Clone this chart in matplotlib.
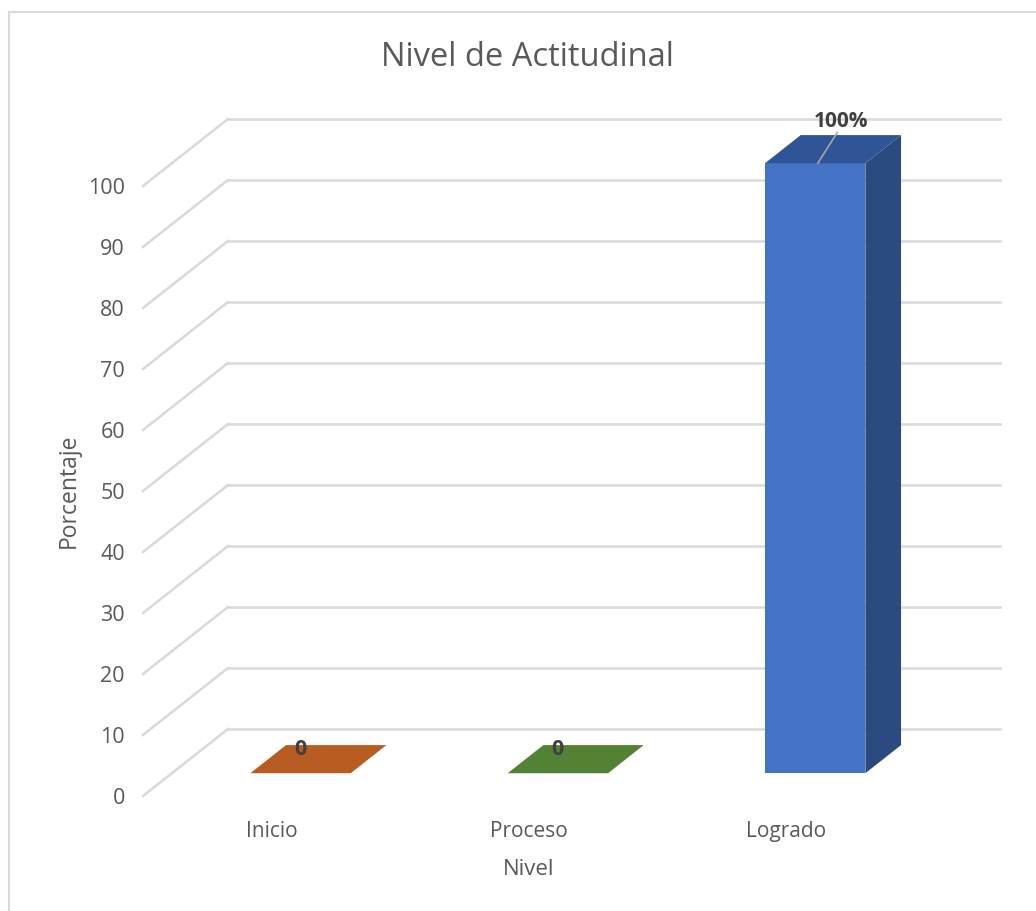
import numpy as np
import matplotlib
matplotlib.use("Agg")
import matplotlib.pyplot as plt
from matplotlib.patches import Polygon
from matplotlib.lines import Line2D

plt.rcParams['font.family'] = ['Open Sans', 'DejaVu Sans']

categories = ["Inicio", "Proceso", "Logrado"]
values = [0, 0, 100]
labels = ["0", "0", "100%"]
yticks = list(range(0, 101, 10))

front_colors = ["#b85c22", "#548235", "#4472c4"]
top_colors = ["#b85c22", "#548235", "#2f5597"]
side_colors = ["#8a4418", "#3d6127", "#2a4a80"]

TXT = "#595959"
GRID = "#d9d9d9"

# depth of the 3d box, in data units (x: categories, y: value)
DX, DY = 0.33, 10.98
BAR_W = 0.39
D0, D1 = 0.34, 0.76   # bar front / back as fraction of depth

fig = plt.figure(figsize=(10.36, 9.11), dpi=100)
ax = fig.add_axes([143 / 1036, 115 / 911, 772 / 1036, 610 / 911])
ax.set_xlim(-0.5, 2.5)
ax.set_ylim(0, 100)
for s in ax.spines.values():
    s.set_visible(False)

# back wall gridlines + side diagonals
for v in yticks:
    ax.plot([-0.5 + DX, 2.5 + DX], [v + DY, v + DY], color=GRID, lw=1.8,
            clip_on=False, zorder=1)
    ax.plot([-0.5, -0.5 + DX], [v, v + DY], color=GRID, lw=1.8,
            clip_on=False, zorder=1)

x = np.arange(len(categories))
b0 = D0 * DY
b1 = D1 * DY
for i, (c, v) in enumerate(zip(x, values)):
    l0 = c - BAR_W / 2 + D0 * DX
    r0 = c + BAR_W / 2 + D0 * DX
    l1 = c - BAR_W / 2 + D1 * DX
    r1 = c + BAR_W / 2 + D1 * DX
    if v > 0:
        # side face
        ax.add_patch(Polygon([(r0, b0), (r1, b1), (r1, v + b1), (r0, v + b0)],
                             closed=True, fc=side_colors[i], ec="none",
                             zorder=3, clip_on=False))
        # front face
        ax.add_patch(Polygon([(l0, b0), (r0, b0), (r0, v + b0), (l0, v + b0)],
                             closed=True, fc=front_colors[i], ec="none",
                             zorder=4, clip_on=False))
    # top face
    ax.add_patch(Polygon([(l0, v + b0), (r0, v + b0), (r1, v + b1), (l1, v + b1)],
                         closed=True, fc=top_colors[i], ec="none",
                         zorder=4, clip_on=False))

# data labels
for i, (c, v) in enumerate(zip(x, values)):
    fx = c + D0 * DX
    if v > 0:
        ax.plot([fx + 0.01, fx + 0.085], [v + b0, v + b0 + 5.0],
                color="#a6a6a6", lw=1.2, zorder=5, clip_on=False)
        ax.text(fx + 0.1, v + b0 + 5.2, labels[i], ha="center", va="bottom",
                fontsize=15, fontweight="bold", color="#404040", zorder=6)
    else:
        ax.text(fx, v + b1 - 0.8, labels[i], ha="center", va="center",
                fontsize=15.5, fontweight="bold", color="#404040", zorder=6)

ax.set_yticks(yticks)
ax.set_yticklabels([str(t) for t in yticks], fontsize=15.5, color=TXT)
ax.set_xticks(x)
ax.set_xticklabels(categories, fontsize=15, color=TXT)
ax.tick_params(axis="both", length=0)
ax.tick_params(axis="y", pad=13)
ax.tick_params(axis="x", pad=18)
ax.grid(False)

ax.set_ylabel("Porcentaje", fontsize=16.5, color=TXT, labelpad=5)
ax.set_xlabel("Nivel", fontsize=16, color=TXT, labelpad=12)

fig.text(527 / 1036, 1 - 57 / 911, "Nivel de Actitudinal", ha="center",
         va="center", fontsize=23.5, color=TXT)

# chart border
fig.add_artist(Line2D([9 / 1036, 9 / 1036], [0, 1 - 12 / 911],
                      transform=fig.transFigure, color="#d9d9d9", lw=1.5))
fig.add_artist(Line2D([9 / 1036, 1], [1 - 12 / 911, 1 - 12 / 911],
                      transform=fig.transFigure, color="#d9d9d9", lw=1.5))

fig.savefig("out.png", dpi=100, facecolor="white")
